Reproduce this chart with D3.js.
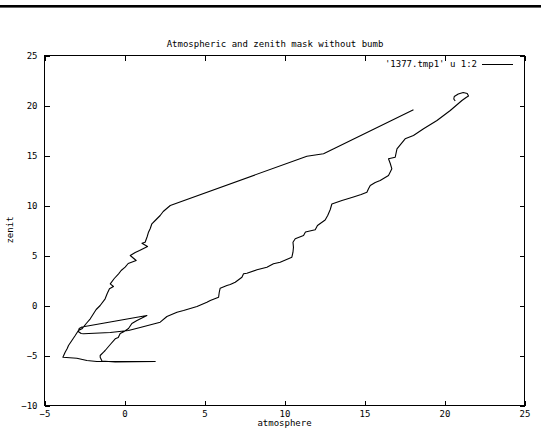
<!DOCTYPE html>
<html>
<head>
<meta charset="utf-8">
<script src="https://cdn.jsdelivr.net/npm/d3@7"></script>
<style>
  body { margin: 0; background: #fff; }
  text { font-family: "DejaVu Sans Mono", monospace; font-size: 9px; fill: #000; }
</style>
</head>
<body>
<div id="chart"></div>
<script>
// mask outline, column 1 (atmosphere) and column 2 (zenit)
var atmosphere = [18.06, 12.44, 11.40, 2.86,
  2.42, 2.23, 1.92, 1.71, 1.61, 1.5, 1.42, 1.29, 1.09, 1.44, 0.94, 0.67, 0.36, 0.73, 0.23, 0.04,
  -0.21, -0.37, -0.64, -0.89, -0.69, -0.94, -1.08, -1.21, -1.52, -1.77, -1.94, -2.14, -2.39, -2.66,
  -2.88, -3.08, -3.29, -3.5, -3.58, -3.71, -3.85,
  -2.98, -2.35, -1.73, 1.92, -0.58, -1.41,
  -1.52, -1.52, -1.31, -1.21, -0.89, -0.58, -0.39, -0.27, -0.02, 0.25, 0.46, 0.78, 1.4,
  -2.66, -2.83, -2.89, -2.71, -2.56,
  -0.89, 0.25, 0.98, 2.23, 2.65, 3.28, 3.69, 4.53, 5.15, 5.36, 5.88, 5.92, 5.98, 6.4, 6.61, 6.92,
  7.34, 7.44, 7.65, 8.28, 8.9, 9.31, 9.73, 10.46, 10.53, 10.56, 10.53, 10.67, 11.19, 11.31, 11.92,
  12.06, 12.54, 12.7, 12.86, 12.96, 13.59, 14.26, 14.79, 15.15, 15.25, 15.36, 15.67, 15.98, 16.5,
  16.71, 16.61, 16.5, 16.92, 17.03, 17.54, 18.06, 18.69, 19.53, 20.36, 21.09, 21.35, 21.5, 21.42,
  21.17, 20.86, 20.61, 20.58, 20.67];
var zenit = [19.57, 15.17, 14.93, 10.0,
  9.4, 9.0, 8.5, 8.17, 7.7, 7.33, 6.9, 6.33, 6.23, 5.9, 5.5, 5.3, 5.0, 4.5, 4.2, 3.83,
  3.5, 3.17, 2.7, 2.17, 1.9, 1.67, 1.2, 0.67, 0.0, -0.4, -0.83, -1.33, -1.8, -2.33,
  -2.5, -3.0, -3.5, -4.0, -4.3, -4.67, -5.17,
  -5.27, -5.5, -5.6, -5.6, -5.65, -5.55,
  -5.17, -5.0, -4.67, -4.5, -3.9, -3.33, -3.2, -2.8, -2.6, -2.3, -1.8, -1.5, -1.0,
  -2.15, -2.3, -2.6, -2.8, -2.83,
  -2.7, -2.5, -2.2, -1.67, -1.1, -0.67, -0.5, -0.1, 0.33, 0.5, 0.83, 1.3, 1.73, 2.0, 2.1, 2.33,
  2.83, 3.17, 3.23, 3.57, 3.83, 4.17, 4.33, 4.83, 5.33, 5.83, 6.33, 6.67, 7.0, 7.35, 7.57,
  8.0, 8.55, 9.0, 9.6, 10.15, 10.5, 10.83, 11.1, 11.33, 11.67, 12.0, 12.3, 12.5, 13.0,
  13.67, 14.2, 14.67, 14.83, 15.67, 16.67, 17.0, 17.67, 18.5, 19.5, 20.5, 20.8, 20.95, 21.2,
  21.3, 21.15, 20.9, 20.65, 20.45];

var xTicks = [-5, 0, 5, 10, 15, 20, 25];
var yTicks = [-10, -5, 0, 5, 10, 15, 20, 25];
var titleText = "Atmospheric and zenith mask without bumb";
var legendText = "'1377.tmp1' u 1:2";

var width = 541, height = 428;
var svg = d3.select("#chart").append("svg")
    .attr("width", width)
    .attr("height", height);

// black rule across the top
svg.append("rect")
    .attr("x", 0).attr("y", 5)
    .attr("width", width).attr("height", 2.6)
    .attr("fill", "#000");

var x = d3.scaleLinear().domain([-5, 25]).range([44.5, 524.5]);
var y = d3.scaleLinear().domain([-10, 25]).range([405.5, 55.5]);

function tidy(g) {
  g.select(".domain").remove();
  g.selectAll("line").attr("stroke", "#000").attr("shape-rendering", "crispEdges");
  g.selectAll("text").attr("font-family", null).attr("font-size", null);
}

svg.append("g").attr("transform", "translate(0,405.5)")
    .call(d3.axisBottom(x).tickValues(xTicks).tickSizeInner(-5).tickSizeOuter(0).tickPadding(5).tickFormat(d3.format("d")))
    .call(tidy);
svg.append("g").attr("transform", "translate(0,55.5)")
    .call(d3.axisTop(x).tickValues(xTicks).tickSizeInner(-5).tickSizeOuter(0).tickFormat(""))
    .call(tidy);
svg.append("g").attr("transform", "translate(44.5,0)")
    .call(d3.axisLeft(y).tickValues(yTicks).tickSizeInner(-5).tickSizeOuter(0).tickPadding(7).tickFormat(d3.format("d")))
    .call(tidy);
svg.append("g").attr("transform", "translate(524.5,0)")
    .call(d3.axisRight(y).tickValues(yTicks).tickSizeInner(-5).tickSizeOuter(0).tickFormat(""))
    .call(tidy);

// border
svg.append("rect")
    .attr("x", x(-5)).attr("y", y(25))
    .attr("width", x(25) - x(-5)).attr("height", y(-10) - y(25))
    .attr("fill", "none").attr("stroke", "#000")
    .attr("shape-rendering", "crispEdges");

var pts = atmosphere.map(function(d, i) { return [d, zenit[i]]; });
var line = d3.line().x(function(d) { return x(d[0]); }).y(function(d) { return y(d[1]); });
svg.append("path")
    .datum(pts)
    .attr("d", line)
    .attr("fill", "none")
    .attr("stroke", "#000")
    .attr("stroke-width", 1.1)
    .attr("stroke-linejoin", "round");

// title and labels
svg.append("text").attr("x", 275).attr("y", 47).attr("text-anchor", "middle").text(titleText);
svg.append("text").attr("x", 284.5).attr("y", 425.5).attr("text-anchor", "middle").text("atmosphere");
svg.append("text").attr("transform", "translate(13,230) rotate(-90)").attr("text-anchor", "middle").text("zenit");

// key
svg.append("text").attr("x", 477).attr("y", 67).attr("text-anchor", "end").text(legendText);
svg.append("line")
    .attr("x1", 482).attr("x2", 513).attr("y1", 64.5).attr("y2", 64.5)
    .attr("stroke", "#000").attr("shape-rendering", "crispEdges");
</script>
</body>
</html>
